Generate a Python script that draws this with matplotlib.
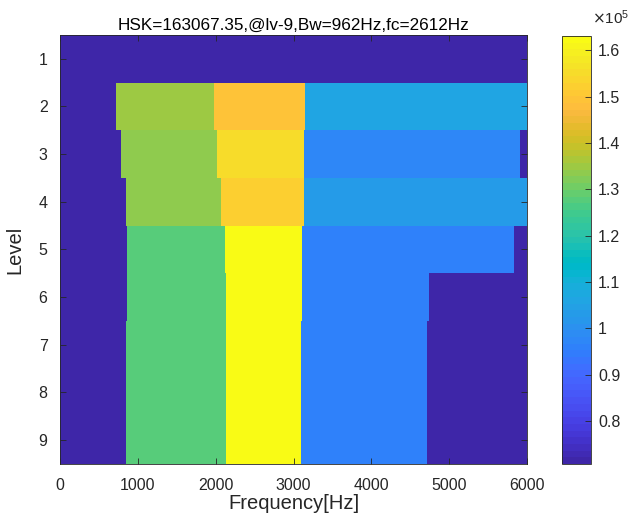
import matplotlib
matplotlib.use("Agg")
import matplotlib.pyplot as plt
import numpy as np
from matplotlib.colors import ListedColormap, Normalize

# ---------------- data ----------------
levels = [1, 2, 3, 4, 5, 6, 7, 8, 9]
dark = 70700
# band edges (Hz) per level
edges_l1 = [0, 6000]
edges_l2 = [0, 715, 1977, 3142, 6000]
edges_l3 = [0, 783, 2012, 3129, 5915, 6000]
edges_l4 = [0, 847, 2063, 3129, 6000]
edges_l5 = [0, 860, 2119, 3103, 5833, 6000]
edges_l6 = [0, 856, 2127, 3103, 4738, 6000]
edges_l7 = [0, 847, 2127, 3090, 4716, 6000]
edges_l8 = [0, 847, 2127, 3090, 4716, 6000]
edges_l9 = [0, 847, 2131, 3093, 4716, 6000]
# HSK values per band
vals_l1 = [dark]
vals_l2 = [dark, 135200, 149000, 105500]
vals_l3 = [dark, 134000, 154500, 97000, dark]
vals_l4 = [dark, 133500, 152800, 102500]
vals_l5 = [dark, 127500, 163067, 95500, dark]
vals_l6 = [dark, 127500, 163067, 95500, dark]
vals_l7 = [dark, 127500, 163067, 95500, dark]
vals_l8 = [dark, 127500, 163067, 95500, dark]
vals_l9 = [dark, 127500, 163067, 95500, dark]
xticks = [0, 1000, 2000, 3000, 4000, 5000, 6000]
cbar_ticks = [80000, 90000, 100000, 110000, 120000, 130000, 140000, 150000, 160000]
cbar_labels = ["0.8", "0.9", "1", "1.1", "1.2", "1.3", "1.4", "1.5", "1.6"]
title = "HSK=163067.35,@lv-9,Bw=962Hz,fc=2612Hz"

all_edges = [edges_l1, edges_l2, edges_l3, edges_l4, edges_l5, edges_l6, edges_l7, edges_l8, edges_l9]
all_vals = [vals_l1, vals_l2, vals_l3, vals_l4, vals_l5, vals_l6, vals_l7, vals_l8, vals_l9]

# ---------------- parula colormap ----------------
parula = [
[0.2422,0.1504,0.6603],[0.2504,0.1650,0.7076],[0.2578,0.1818,0.7511],[0.2647,0.1978,0.7952],
[0.2706,0.2147,0.8364],[0.2751,0.2342,0.8710],[0.2783,0.2559,0.8991],[0.2803,0.2782,0.9221],
[0.2813,0.3006,0.9414],[0.2810,0.3228,0.9579],[0.2795,0.3447,0.9717],[0.2760,0.3667,0.9829],
[0.2699,0.3892,0.9906],[0.2602,0.4123,0.9952],[0.2440,0.4358,0.9988],[0.2206,0.4603,0.9973],
[0.1963,0.4847,0.9892],[0.1834,0.5074,0.9798],[0.1786,0.5289,0.9682],[0.1764,0.5499,0.9520],
[0.1687,0.5703,0.9359],[0.1540,0.5902,0.9218],[0.1460,0.6091,0.9079],[0.1380,0.6276,0.8973],
[0.1248,0.6459,0.8883],[0.1113,0.6635,0.8763],[0.0952,0.6798,0.8598],[0.0689,0.6948,0.8394],
[0.0297,0.7082,0.8163],[0.0036,0.7203,0.7917],[0.0067,0.7312,0.7660],[0.0433,0.7411,0.7394],
[0.0964,0.7500,0.7120],[0.1408,0.7584,0.6842],[0.1717,0.7670,0.6554],[0.1938,0.7758,0.6251],
[0.2161,0.7843,0.5923],[0.2470,0.7918,0.5567],[0.2906,0.7973,0.5188],[0.3406,0.8008,0.4789],
[0.3909,0.8029,0.4354],[0.4456,0.8024,0.3909],[0.5044,0.7993,0.3480],[0.5616,0.7942,0.3045],
[0.6174,0.7876,0.2612],[0.6720,0.7793,0.2227],[0.7242,0.7698,0.1910],[0.7738,0.7598,0.1646],
[0.8203,0.7498,0.1535],[0.8634,0.7406,0.1596],[0.9035,0.7330,0.1774],[0.9393,0.7288,0.2100],
[0.9728,0.7298,0.2394],[0.9956,0.7434,0.2371],[0.9970,0.7659,0.2199],[0.9952,0.7893,0.2028],
[0.9892,0.8136,0.1885],[0.9786,0.8386,0.1766],[0.9676,0.8639,0.1643],[0.9610,0.8890,0.1537],
[0.9597,0.9135,0.1423],[0.9628,0.9373,0.1265],[0.9691,0.9606,0.1064],[0.9769,0.9839,0.0805]]
cmap = ListedColormap(parula, name="parula")
norm = Normalize(vmin=dark, vmax=163067)

plt.rcParams['font.family'] = ['Liberation Sans', 'DejaVu Sans']
axcol = (0.15, 0.15, 0.15)

fig = plt.figure(figsize=(6.34, 5.23), dpi=100)
ax = fig.add_axes([60/634, 1-464/523, (527-60)/634, (464-35)/523])
cax = fig.add_axes([562/634, 1-464/523, (591-562)/634, (464-36)/523])

for lev, e, v in zip(levels, all_edges, all_vals):
    ax.pcolormesh(np.array(e), np.array([lev-0.5, lev+0.5]), np.array([v]),
                  cmap=cmap, norm=norm, shading='flat', antialiased=False, linewidth=0)

ax.set_xlim(0, 6000)
ax.set_ylim(9.5, 0.5)
ax.set_xticks(xticks)
ax.set_yticks(levels)
ax.tick_params(direction='in', top=True, right=True, length=4, width=0.6,
               labelsize=11.5, colors=axcol)
ax.tick_params(axis='x', pad=10)
ax.tick_params(axis='y', pad=9)
for s in ax.spines.values():
    s.set_color(axcol); s.set_linewidth(0.6)
ax.set_xlabel("Frequency[Hz]", fontsize=14.5, color=axcol, labelpad=1)
ax.set_ylabel("Level", fontsize=14.5, color=axcol, labelpad=10)
ax.set_title(title, fontsize=12.3, color='black', pad=3.5)

sm = matplotlib.cm.ScalarMappable(norm=norm, cmap=cmap)
cb = fig.colorbar(sm, cax=cax)
cb.set_ticks(cbar_ticks)
cb.set_ticklabels(cbar_labels)
cax.tick_params(direction='in', length=4, width=0.6, labelsize=11.5, colors=axcol, pad=5)
cb.outline.set_edgecolor(axcol); cb.outline.set_linewidth(0.6)
cax.text(1.05, 1.022, r"$\times\mathregular{10^{5}}$", transform=cax.transAxes,
         fontsize=11, color=axcol, ha='left', va='bottom')

fig.savefig("out.png", dpi=100)
